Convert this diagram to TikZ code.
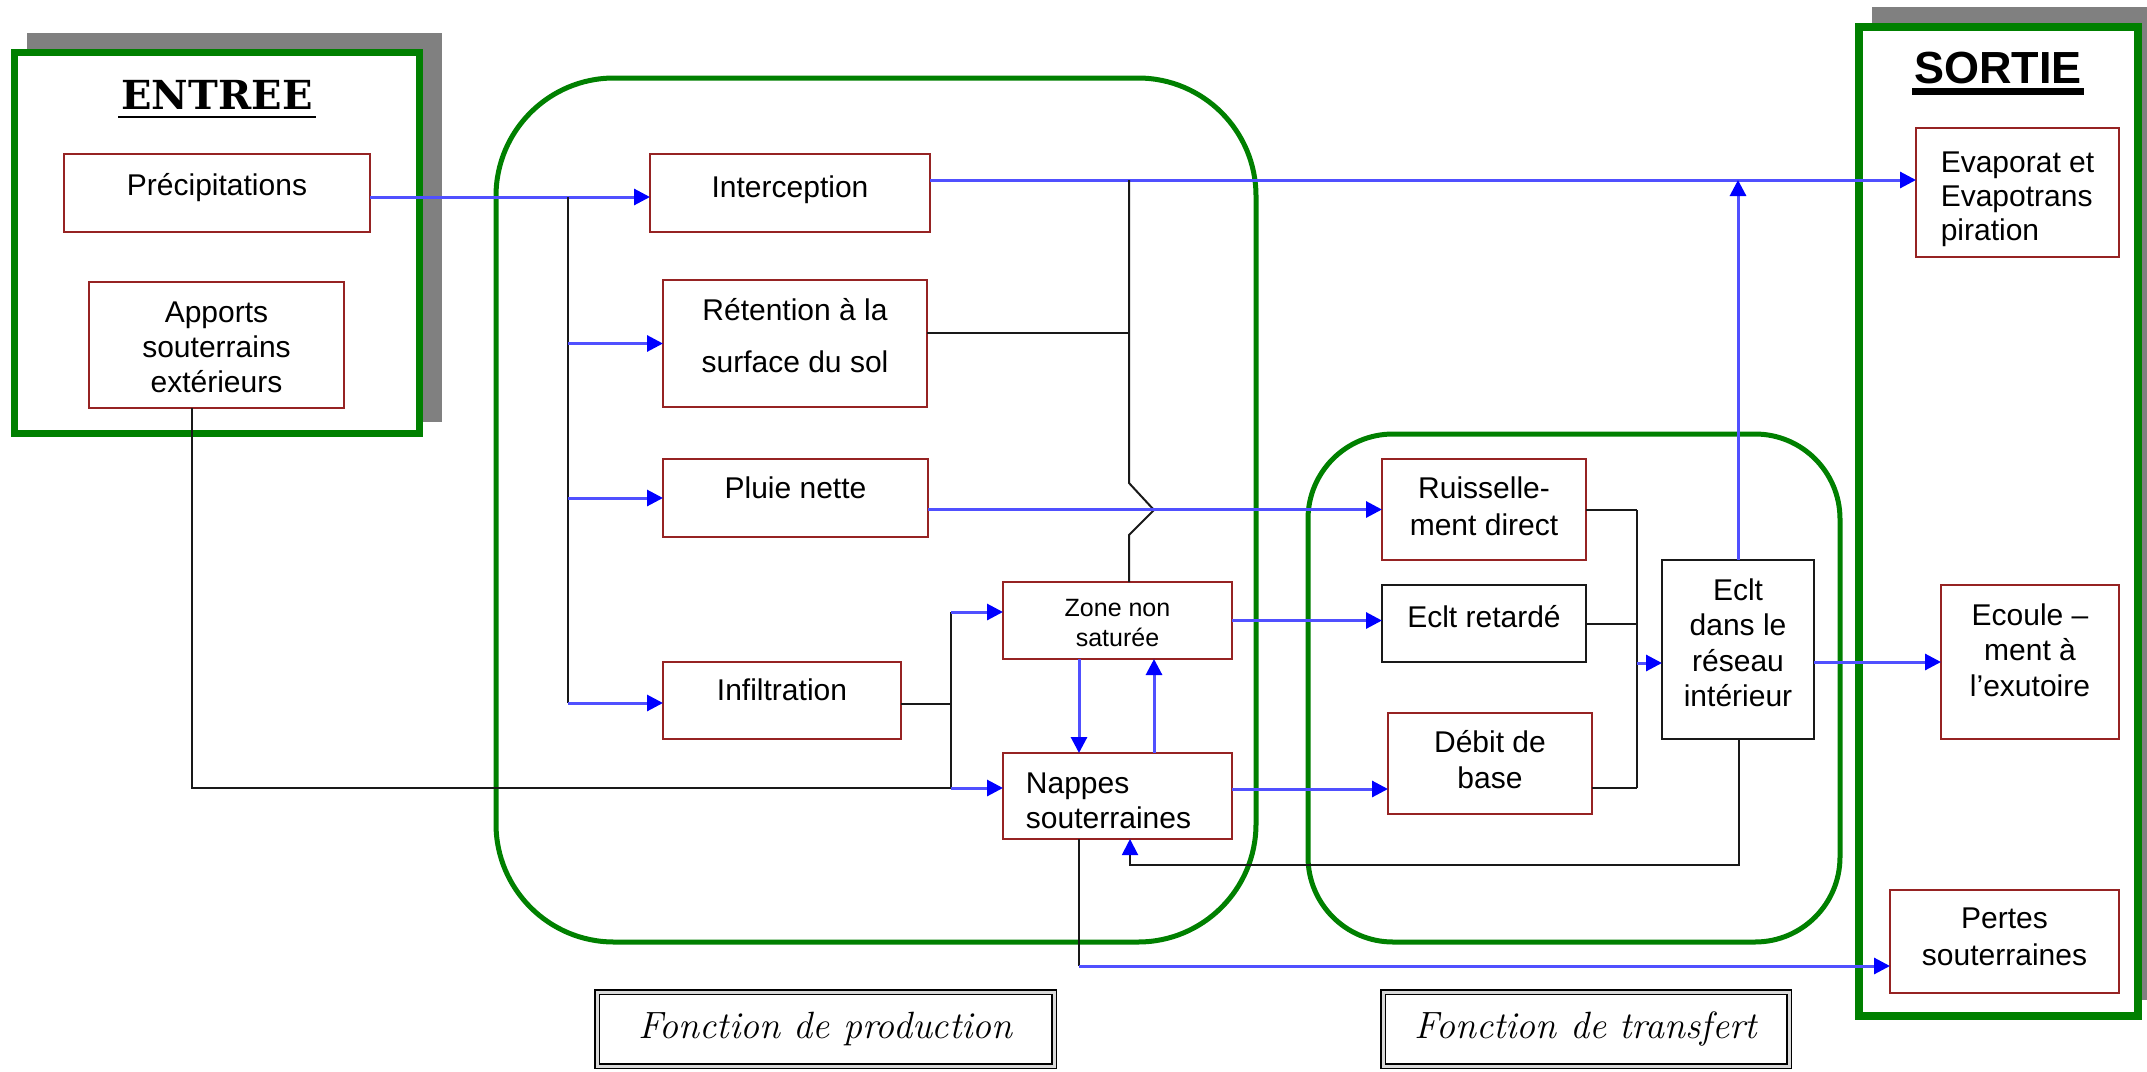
\documentclass[tikz,border=0pt]{standalone}
\usepackage{fontspec}
\newfontfamily\arial{Liberation Sans}
\newfontfamily\slab{DejaVu Serif}
\usetikzlibrary{arrows.meta,calc}
\definecolor{grn}{RGB}{0,128,0}
\definecolor{dred}{RGB}{150,35,35}
\definecolor{bln}{RGB}{80,80,255}
\definecolor{blt}{RGB}{0,0,255}
\definecolor{shd}{RGB}{128,128,128}
\definecolor{ink}{RGB}{25,25,25}
\begin{document}
\begin{tikzpicture}[x=1pt,y=-1pt,
 box/.style={draw=dred, line width=1.8pt, fill=white, inner sep=0pt, outer sep=0pt, align=center, text=black, font=\arial\fontsize{30}{35}\selectfont},
 kbox/.style={box, draw=ink},
 blu/.style={draw=bln, line width=3pt},
 blk/.style={draw=ink, line width=2pt},
 arr/.style={-{Triangle[length=16pt,width=16pt,color=blt]}},
 cont/.style={draw=grn, line width=5pt},
 lab/.style={draw=black, line width=1.8pt, double=gray!30, double distance=3pt, fill=white, inner sep=0pt, font=\fontsize{38}{45}\selectfont\itshape},
]
\useasboundingbox (0,0) rectangle (2147,1071);

% frames
\fill[shd] (27,33) rectangle (442,422);
\draw[draw=grn, line width=7pt, fill=white] (14.5,52.5) rectangle (419.5,433.5);
\fill[shd] (1872,7) rectangle (2147,1000);
\draw[draw=grn, line width=8pt, fill=white] (1859,27) rectangle (2138,1016);
\draw[cont, rounded corners=118pt] (496,78) rectangle (1256,942);
\draw[cont, rounded corners=85pt] (1308,434) rectangle (1840,942);

% titles
\node[inner sep=0pt, anchor=base, font=\slab\bfseries\fontsize{40}{48}\selectfont] (entree) at (217,109) {ENTREE};
\draw[line width=2.5pt] ($(entree.base west)+(-3,8)$) -- ($(entree.base east)+(3,8)$);
\node[inner sep=0pt, anchor=base, font=\arial\bfseries\fontsize{45}{54}\selectfont] (sortie) at (1998,83) {SORTIE};
\draw[line width=7pt] ($(sortie.base west)+(-2,8.5)$) -- ($(sortie.base east)+(2,8.5)$);

% boxes
\node[box, minimum width=306pt, minimum height=78pt, text height=41pt, text depth=37pt] (prec) at (217,193) {Précipitations};
\node[box, minimum width=255pt, minimum height=126pt, text height=110pt, text depth=16pt] (apports) at (216.5,345) {Apports\\souterrains\\extérieurs};
\node[box, minimum width=280pt, minimum height=78pt, text height=43pt, text depth=35pt] (interc) at (790,193) {Interception};
\node[box, minimum width=264pt, minimum height=127pt, text height=92pt, text depth=35pt, font=\arial\fontsize{30}{52}\selectfont] (reten) at (795,343.5) {Rétention à la\\surface du sol};
\node[box, minimum width=265pt, minimum height=78pt, text height=39pt, text depth=39pt] (pluie) at (795.5,498) {Pluie nette};
\node[box, minimum width=238pt, minimum height=77pt, text height=38pt, text depth=39pt] (infil) at (782,700.5) {Infiltration};
\node[box, minimum width=229pt, minimum height=77pt, text height=64pt, text depth=13pt, font=\arial\fontsize{25}{30}\selectfont] (zone) at (1117.5,620.5) {Zone non\\saturée};
\node[box, align=left, minimum width=229pt, minimum height=86pt, text height=75pt, text depth=11pt] (nappes) at (1117.5,796) {Nappes\\souterraines\hspace*{18pt}};
\node[box, minimum width=204pt, minimum height=101pt, text height=76pt, text depth=25pt, font=\arial\fontsize{30}{37}\selectfont] (ruiss) at (1484,509.5) {Ruisselle-\\ment direct};
\node[kbox, minimum width=204pt, minimum height=77pt, text height=42pt, text depth=35pt] (retard) at (1484,623.5) {Eclt retardé};
\node[box, minimum width=204pt, minimum height=101pt, text height=75pt, text depth=26pt, font=\arial\fontsize{30}{36}\selectfont] (debit) at (1490,763.5) {Débit de\\base};
\node[kbox, minimum width=152pt, minimum height=179pt, text height=146.5pt, text depth=32.5pt, font=\arial\fontsize{30}{35.5}\selectfont] (reseau) at (1738,649.5) {Eclt\\dans le\\réseau\\intérieur};
\node[box, align=left, minimum width=203pt, minimum height=129pt, text height=112pt, text depth=17pt, font=\arial\fontsize{30}{34}\selectfont] (evap) at (2017.5,192.5) {Evaporat et\\Evapotrans\\piration};
\node[box, minimum width=178pt, minimum height=154pt, text height=111pt, text depth=43pt, font=\arial\fontsize{30}{35.5}\selectfont] (ecoul) at (2030,662) {Ecoule –\\ment à\\l’exutoire};
\node[box, minimum width=229pt, minimum height=103pt, text height=75pt, text depth=28pt, font=\arial\fontsize{30}{37}\selectfont] (pertes) at (2004.5,941.5) {Pertes\\souterraines};

% labels
\node[lab, minimum width=457pt, minimum height=74pt] (fprod) at (825.5,1029) {Fonction de production};
\node[lab, minimum width=406pt, minimum height=74pt] (ftrans) at (1586,1029) {Fonction de transfert};

% connectors
\coordinate (bus) at (568,197);
\draw[blu,arr] ($(prec.east)+(0,4)$) -- ($(interc.west)+(0,4)$);
\draw[blk] (bus) -- (bus |- 0,703);
\draw[blu,arr] (bus |- reten.west) -- (reten.west);
\draw[blu,arr] (bus |- pluie.west) -- (pluie.west);
\coordinate (i3) at ($(infil.west)+(0,2.5)$);
\draw[blu,arr] (bus |- i3) -- (i3);

\coordinate (iout) at ($(interc.east)+(0,-13)$);
\draw[blu,arr] (iout) -- (iout -| evap.west);
\coordinate (k) at (1129,180);
\draw[blk] (k) -- (1129,483) -- (1154,510) -- (1129,535) -- (k |- zone.north);
\coordinate (r0) at ($(reten.east)+(0,-10.5)$);
\draw[blk] (r0) -- (r0 -| k);
\draw[blu,arr] (pluie.east |- ruiss.west) -- (ruiss.west);

\coordinate (s0) at (951,704);
\coordinate (s1) at (951,612);
\coordinate (s2) at (951,788);
\draw[blk] (infil.east |- s0) -- (s0);
\draw[blk] (s1) -- (s2);
\draw[blu,arr] (s1) -- (s1 -| zone.west);
\draw[blu,arr] (s2) -- (s2 -| nappes.west);
\draw[blk] ($(apports.south)+(-24.5,0)$) |- (s2);

\draw[blu,arr] (zone.east) -- (zone.east -| retard.west);
\draw[blu,arr] ($(zone.south)+(-38.5,0)$) -- ($(nappes.north)+(-38.5,0)$);
\draw[blu,arr] ($(nappes.north)+(36.5,0)$) -- ($(zone.south)+(36.5,0)$);
\coordinate (n7) at ($(nappes.east)+(0,-7)$);
\draw[blu,arr] (n7) -- (n7 -| debit.west);

\coordinate (t1) at (1637,510);
\coordinate (t2) at (1637,788);
\draw[blk] (ruiss.east) -- (ruiss.east -| t1);
\draw[blk] (retard.east) -- (retard.east -| t1);
\draw[blk] ($(debit.east)+(0,24.5)$) -- (t2);
\draw[blk] (t1) -- (t2);
\coordinate (r1) at ($(reseau.west)+(0,13.5)$);
\draw[blu,arr] (t1 |- r1) -- (r1);
\draw[blu,arr] (reseau.north) -- (reseau.north |- iout);
\draw[blk,arr] ($(reseau.south)+(1,0)$) -- ++(0,126) -| ($(nappes.south)+(12.5,0)$);
\draw[blu,arr] (reseau.east |- ecoul.west) -- (ecoul.west);
\coordinate (p) at (1079,966);
\draw[blk] ($(nappes.south)+(-38.5,0)$) -- (p);
\draw[blu,arr] (p) -- (p -| pertes.west);
\end{tikzpicture}
\end{document}
